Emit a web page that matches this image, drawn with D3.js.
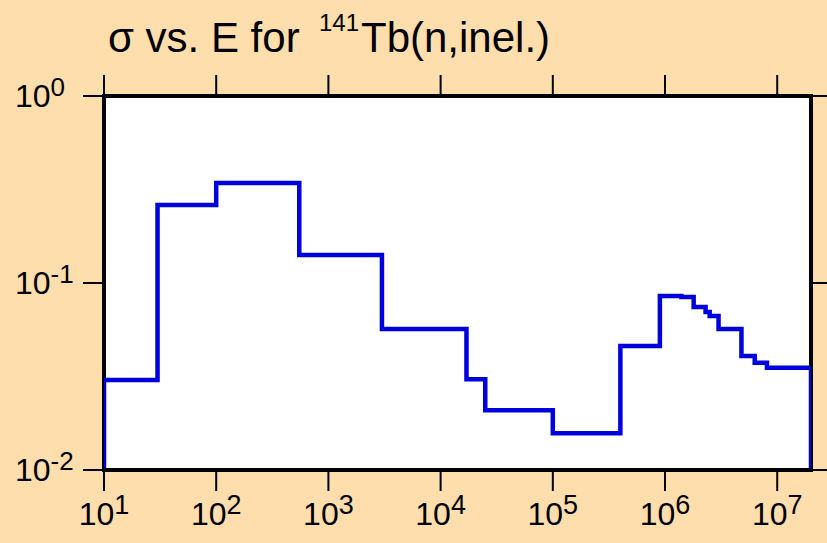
<!DOCTYPE html>
<html>
<head>
<meta charset="utf-8">
<script src="https://cdn.jsdelivr.net/npm/d3@7"></script>
<style>
  html, body { margin: 0; padding: 0; background: #FFDEAD; }
  svg { display: block; }
  text { font-family: "Liberation Sans", Arial, Helvetica, sans-serif; fill: #000; }
</style>
</head>
<body>
<svg id="chart" width="827" height="543"></svg>
<script>
// ---- Data ----
const energyEdges = [10, 30, 100, 550, 3000, 17000, 25000, 1e5, 4e5, 9e5, 1.4e6, 1.8e6, 2.3e6, 2.5e6, 3e6, 4.8e6, 6.3e6, 8.1e6, 2e7];
const crossSections = [0.0303, 0.261, 0.343, 0.141, 0.0568, 0.0306, 0.0209, 0.0157, 0.046, 0.0852, 0.0841, 0.0744, 0.070, 0.0667, 0.0568, 0.0407, 0.0375, 0.0352];
const xTickValues = [1e1, 1e2, 1e3, 1e4, 1e5, 1e6, 1e7];
const xTickExps = ["1", "2", "3", "4", "5", "6", "7"];
const yTickValues = [1, 0.1, 0.01];
const yTickExps = ["0", "-1", "-2"];
const titleParts = ["σ vs. E for", "141", "Tb(n,inel.)"];

// ---- Layout ----
const svg = d3.select("#chart");
const L = 104, R = 811, T = 96, B = 470;

const x = d3.scaleLog().domain([10, 2e7]).range([L, R]);
const y = d3.scaleLog().domain([0.01, 1]).range([B, T]);

// Plot background
svg.append("rect").attr("x", L).attr("y", T).attr("width", R - L).attr("height", B - T).attr("fill", "#ffffff");

// Ticks (outward, on all four sides)
const tickLen = 21;
const ticks = svg.append("g").attr("stroke", "#000").attr("stroke-width", 2);
xTickValues.forEach(v => {
  ticks.append("line").attr("x1", x(v)).attr("x2", x(v)).attr("y1", T).attr("y2", T - tickLen);
  ticks.append("line").attr("x1", x(v)).attr("x2", x(v)).attr("y1", B).attr("y2", B + tickLen);
});
yTickValues.forEach(v => {
  ticks.append("line").attr("y1", y(v)).attr("y2", y(v)).attr("x1", L).attr("x2", L - tickLen);
  ticks.append("line").attr("y1", y(v)).attr("y2", y(v)).attr("x1", R).attr("x2", R + tickLen);
});

// Border
svg.append("rect").attr("x", L).attr("y", T).attr("width", R - L).attr("height", B - T)
  .attr("fill", "none").attr("stroke", "#000").attr("stroke-width", 4);

// Step line
svg.append("clipPath").attr("id", "clip").append("rect")
  .attr("x", L).attr("y", T).attr("width", R - L).attr("height", B - T - 2);
const pts = [[energyEdges[0], 0.01]];
crossSections.forEach((s, i) => pts.push([energyEdges[i], s]));
pts.push([energyEdges[energyEdges.length - 1], crossSections[crossSections.length - 1]]);
pts.push([energyEdges[energyEdges.length - 1], 0.01]);
const line = d3.line().x(d => x(d[0])).y(d => y(d[1])).curve(d3.curveStepAfter);
svg.append("path").attr("d", line(pts)).attr("clip-path", "url(#clip)")
  .attr("fill", "none").attr("stroke", "#0000dd").attr("stroke-width", 4.5)
  .attr("stroke-linejoin", "miter").attr("stroke-linecap", "square");

// X tick labels
xTickValues.forEach((v, i) => {
  const t = svg.append("text").attr("x", x(v)).attr("y", B + 55).attr("text-anchor", "middle").style("font-size", "32px");
  t.append("tspan").text("10");
  t.append("tspan").attr("dy", -11).style("font-size", "27px").text(xTickExps[i]);
});

// Y tick labels
yTickValues.forEach((v, i) => {
  const t = svg.append("text").attr("x", 15).attr("y", y(v) + 11).style("font-size", "32px");
  t.append("tspan").text("10");
  t.append("tspan").attr("dy", -11).style("font-size", "26px").text(yTickExps[i]);
});

// Title
svg.append("text").attr("x", 108).attr("y", 52).style("font-size", "42px").text(titleParts[0]);
svg.append("text").attr("x", 319).attr("y", 31).style("font-size", "24px").text(titleParts[1]);
svg.append("text").attr("x", 361).attr("y", 52).style("font-size", "42px").text(titleParts[2]);
</script>
</body>
</html>
